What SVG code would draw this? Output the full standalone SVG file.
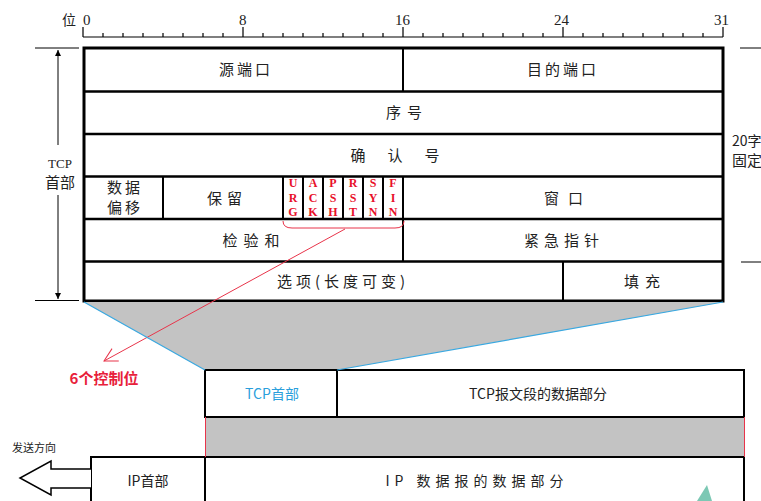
<svg xmlns="http://www.w3.org/2000/svg" width="761" height="501" viewBox="0 0 761 501">
<style>
text{font-family:"Noto Sans CJK SC","Liberation Sans",sans-serif;fill:#222;text-anchor:middle}
.cn{font-size:15px;letter-spacing:3px}
.num{font-family:"Liberation Serif","Noto Sans CJK SC",serif;font-size:15px;text-anchor:start}
.flag{font-family:"Liberation Serif",serif;font-weight:bold;font-size:12px;fill:#e8102a;writing-mode:vertical-rl;text-orientation:upright;letter-spacing:0.5px}
.cell{fill:#fff;stroke:#000;stroke-width:2}
.thin{stroke:#000;stroke-width:1;fill:none}
.tick{stroke:#000;stroke-width:1.2}
.blue{stroke:#3aa8e0;stroke-width:1.2;fill:none}
.red{stroke:#e8344a;stroke-width:1;fill:none}
</style>
<defs>
<marker id="openArrow" markerWidth="16" markerHeight="16" refX="14" refY="8" orient="auto" markerUnits="userSpaceOnUse">
<path d="M1,1 L14,8 L1,15" fill="none" stroke="#e8344a" stroke-width="1"/>
</marker>
<marker id="tinyArrow" markerWidth="8" markerHeight="8" refX="6" refY="4" orient="auto" markerUnits="userSpaceOnUse">
<path d="M0,1 L6,4 L0,7 Z" fill="#000"/>
</marker>
</defs>
<rect width="761" height="501" fill="#fff"/>

<!-- ruler -->
<g id="ruler">
<line x1="83" y1="37" x2="723" y2="37" class="tick"/>
<path class="tick" d="M83,27V37M103,33V37M123,33V37M143,33V37M163,33V37M183,33V37M203,33V37M223,33V37M243,27V37M263,33V37M283,33V37M303,33V37M323,33V37M343,33V37M363,33V37M383,33V37M403,27V37M423,33V37M443,33V37M463,33V37M483,33V37M503,33V37M523,33V37M543,33V37M563,27V37M583,33V37M603,33V37M623,33V37M643,33V37M663,33V37M683,33V37M703,33V37M723,27V37"/>
<text x="62" y="25" style="font-size:14px;text-anchor:start">位</text>
<text class="num" x="83" y="25">0</text>
<text class="num" x="239" y="25">8</text>
<text class="num" x="395" y="25">16</text>
<text class="num" x="554" y="25">24</text>
<text class="num" x="714" y="25">31</text>
</g>

<!-- TCP header table -->
<g id="tcp-header">
<rect x="84" y="48" width="639" height="253" fill="#fff" stroke="#000" stroke-width="3"/>
<path d="M84,91.5H723M84,134H723M84,176.5H723M84,219H723M84,261.5H723" stroke="#000" stroke-width="2.5"/>
<path d="M403,48V91.5M163,176.5V219M283,176.5V219M303,176.5V219M323,176.5V219M343,176.5V219M363,176.5V219M383,176.5V219M403,176.5V261.5M563,261.5V301" stroke="#000" stroke-width="2"/>
</g>
<g id="src-port"><text class="cn" x="246" y="75">源端口</text></g>
<g id="dst-port"><text class="cn" x="563" y="75">目的端口</text></g>
<g id="seq"><text class="cn" x="407" y="118" style="letter-spacing:6px">序号</text></g>
<g id="ack"><text class="cn" x="406" y="161" style="letter-spacing:22px">确认号</text></g>
<g id="offset"><text class="cn" x="125" y="193">数据</text><text class="cn" x="125" y="213">偏移</text></g>
<g id="reserved"><text class="cn" x="227" y="204" style="letter-spacing:5px">保留</text></g>
<g id="flags">
<text class="flag" x="293" y="198">URG</text>
<text class="flag" x="313" y="198">ACK</text>
<text class="flag" x="333" y="198">PSH</text>
<text class="flag" x="353" y="198">RST</text>
<text class="flag" x="373" y="198">SYN</text>
<text class="flag" x="393" y="198">FIN</text>
</g>
<g id="window"><text class="cn" x="568" y="204" style="letter-spacing:9px">窗口</text></g>
<g id="checksum"><text class="cn" x="254" y="246" style="letter-spacing:6px">检验和</text></g>
<g id="urgent"><text class="cn" x="564" y="246" style="letter-spacing:5px">紧急指针</text></g>
<g id="options"><text class="cn" x="343" y="287" style="letter-spacing:4px">选项(长度可变)</text></g>
<g id="padding"><text class="cn" x="645" y="287" style="letter-spacing:6px">填充</text></g>

<!-- side annotations -->
<g id="tcp-label">
<text x="60" y="168" style="font-family:'Liberation Serif',serif;font-size:13px">TCP</text>
<text x="60" y="188" style="font-size:15px">首部</text>
</g>
<g id="fixed-label">
<text x="732" y="146" style="font-size:14px;text-anchor:start">20字</text>
<text x="732" y="166" style="font-size:15px;text-anchor:start">固定</text>
</g>

<!-- TCP segment -->
<g id="tcp-segment">
<polygon points="84,302 723,302 337,370 205,370" fill="#c3c3c3"/>
<rect x="205" y="370" width="539" height="47" class="cell"/>
<line x1="337" y1="370" x2="337" y2="417" stroke="#000" stroke-width="2"/>
<rect x="206" y="418" width="538" height="39" fill="#c3c3c3"/>
</g>
<g id="tcp-seg-header"><text x="272" y="399" style="font-size:14px;fill:#2a9fdc">TCP首部</text></g>
<g id="tcp-seg-data"><text x="538" y="399" style="font-size:14px">TCP报文段的数据部分</text></g>

<!-- IP datagram -->
<g id="ip-datagram">
<rect x="91" y="457" width="653" height="50" class="cell"/>
<line x1="205" y1="457" x2="205" y2="501" stroke="#000" stroke-width="2"/>
</g>
<g id="ip-header"><text x="148" y="486" style="font-size:14px">IP首部</text></g>
<g id="ip-data"><text x="477" y="486" style="font-size:14px;letter-spacing:5px">IP 数据报的数据部分</text></g>

<g id="direction">
<path d="M91,469H51V461L20,478L51,495V488H91" fill="#fff" stroke="#000" stroke-width="1.5"/>
<text x="12" y="452" style="font-size:11px;text-anchor:start">发送方向</text>
</g>

<g id="control-label"><text x="104" y="384" style="font-size:15px;font-weight:bold;fill:#e8203a">6个控制位</text></g>

<!-- connectors -->
<g id="connectors">
<path class="red" d="M283,221Q283,228 292,228L395,228Q404,228 404,221"/>
<line class="red" x1="345" y1="229" x2="104" y2="361" marker-end="url(#openArrow)"/>
<line class="blue" x1="84" y1="302" x2="205" y2="370"/>
<line class="blue" x1="723" y1="302" x2="337" y2="370"/>
<line class="red" x1="205.5" y1="417" x2="205.5" y2="457"/>
<line class="red" x1="744.5" y1="417" x2="744.5" y2="457"/>
<line class="thin" x1="35" y1="48" x2="79" y2="48"/>
<line class="thin" x1="35" y1="300.5" x2="79" y2="300.5"/>
<line class="thin" x1="58" y1="145" x2="58" y2="50" marker-end="url(#tinyArrow)"/>
<line class="thin" x1="58" y1="195" x2="58" y2="299" marker-end="url(#tinyArrow)"/>
<line class="thin" x1="740" y1="48" x2="761" y2="48"/>
<line class="thin" x1="741" y1="262" x2="761" y2="262"/>
</g>
<polygon points="697,501 707,485 712,501" fill="#7cc8b4"/>
</svg>
